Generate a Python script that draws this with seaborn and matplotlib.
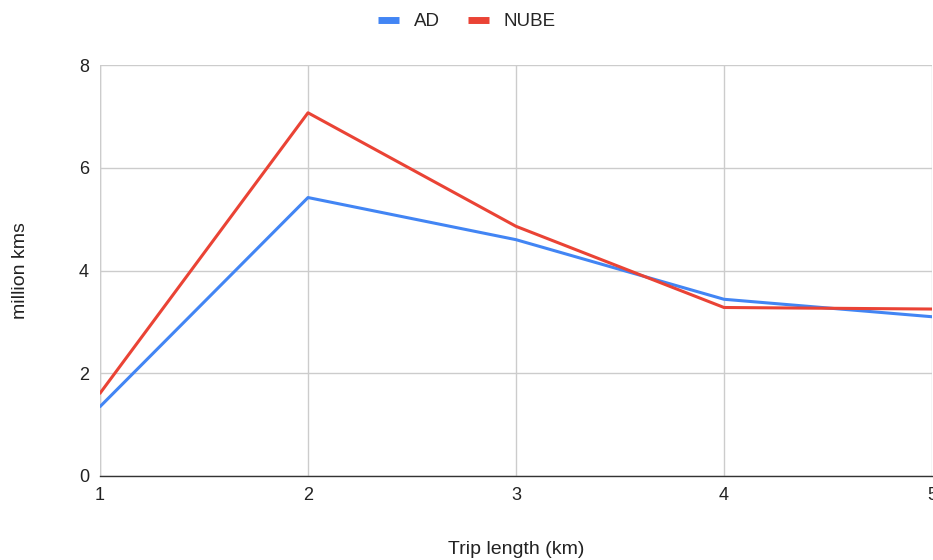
import matplotlib
matplotlib.use("Agg")
import matplotlib.pyplot as plt
import pandas as pd
import seaborn as sns

trip_length = [1, 2, 3, 4, 5]
ad = [1.35, 5.42, 4.60, 3.44, 3.10]
nube = [1.61, 7.07, 4.86, 3.28, 3.25]

df = pd.DataFrame({"Trip length (km)": trip_length, "AD": ad, "NUBE": nube})
long = df.melt(id_vars="Trip length (km)", var_name="series", value_name="million kms")

sns.set_style("white")
plt.rcParams["font.family"] = ["Liberation Sans", "DejaVu Sans"]

fig = plt.figure(figsize=(9.33, 5.6), dpi=100)
ax = fig.add_axes([100 / 933, 84 / 560, 832 / 933, 411 / 560])

sns.lineplot(data=long, x="Trip length (km)", y="million kms", hue="series",
             palette={"AD": "#4285F4", "NUBE": "#EA4335"}, linewidth=2.2, ax=ax)

ax.set_xlim(1, 5)
ax.set_ylim(0, 8)
ax.set_xticks(trip_length)
ax.set_yticks([0, 2, 4, 6, 8])
ax.grid(True, color="#cccccc", linewidth=1)
ax.set_axisbelow(True)
for s in ["top", "right", "left"]:
    ax.spines[s].set_visible(False)
ax.spines["bottom"].set_color("#333333")
ax.spines["bottom"].set_linewidth(1)
ax.axvline(1, color="#cccccc", linewidth=1, zorder=0)
ax.tick_params(axis="both", length=0, labelsize=13, colors="#222222", pad=8)

ax.set_xlabel("Trip length (km)", fontsize=14, color="#222222")
ax.set_ylabel("million kms", fontsize=14, color="#222222")
ax.xaxis.set_label_coords(0.5, -0.158)
ax.yaxis.set_label_coords(-0.085, 0.5)

ax.legend(loc="center", bbox_to_anchor=(0.441, 1.105), ncol=2, frameon=False,
          fontsize=13.5, handlelength=1.1, handletextpad=0.8, columnspacing=1.5)
leg = ax.get_legend()
for line in leg.get_lines():
    line.set_linewidth(5)
    line.set_solid_capstyle("butt")

fig.savefig("out.png", dpi=100)
